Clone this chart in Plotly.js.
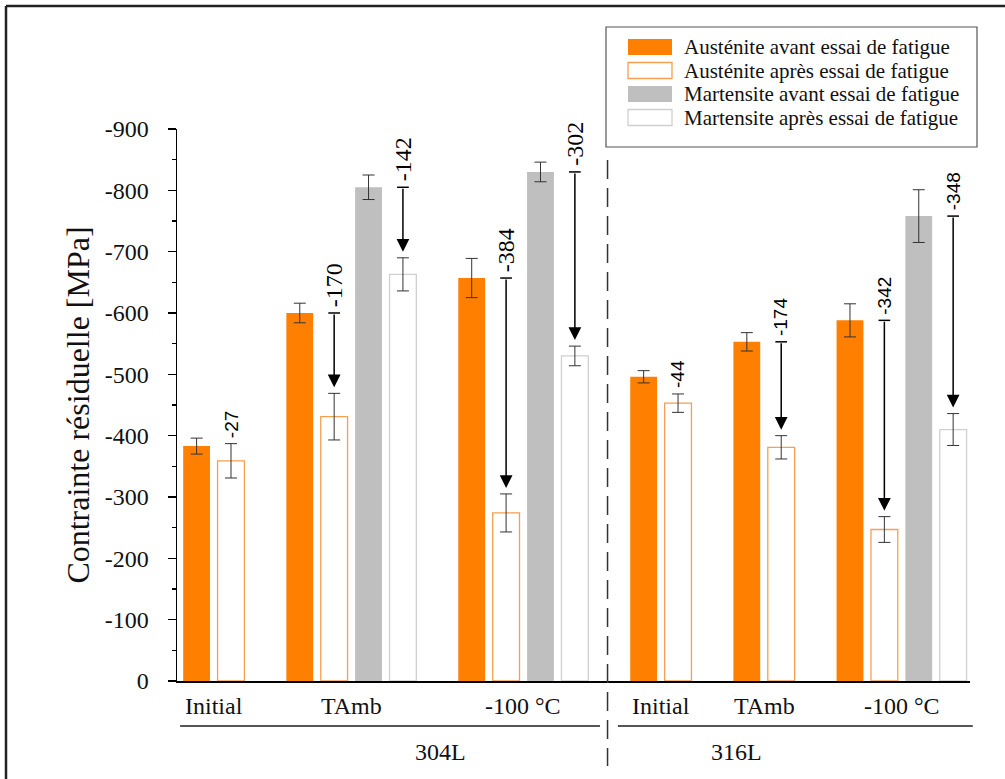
<!DOCTYPE html>
<html>
<head>
<meta charset="utf-8">
<script src="https://cdn.plot.ly/plotly-3.0.1.min.js"></script>
<style>html,body{margin:0;padding:0;background:#fff;}#chart{width:1005px;height:779px;}</style>
</head>
<body>
<div id="chart"></div>
<script>
// ---------- data ----------
const groupAlloy = ['304L', '304L', '304L', '316L', '316L', '316L'];
const groupCondition = ['Initial', 'TAmb', '-100 °C', 'Initial', 'TAmb', '-100 °C'];
const seriesNames = [
  'Austénite avant essai de fatigue',
  'Austénite après essai de fatigue',
  'Martensite avant essai de fatigue',
  'Martensite après essai de fatigue'
];
const austBefore    = [-383, -600, -657, -496, -553, -588];
const austBeforeErr = [13, 16, 32, 10, 15, 27];
const austAfter     = [-359, -431, -274, -453, -381, -247];
const austAfterErr  = [28, 38, 31, 15, 19, 21];
const martBefore    = [null, -805, -830, null, null, -758];
const martBeforeErr = [null, 20, 16, null, null, 43];
const martAfter     = [null, -663, -530, null, null, -410];
const martAfterErr  = [null, 27, 16, null, null, 26];
const austDelta = ['-27', '-170', '-384', '-44', '-174', '-342'];
const martDelta = [null, '-142', '-302', null, null, '-348'];
const yTickValues = [0, -100, -200, -300, -400, -500, -600, -700, -800, -900];
const yTickLabels = ['0', '-100', '-200', '-300', '-400', '-500', '-600', '-700', '-800', '-900'];
const alloyNames = ['304L', '316L'];

// ---------- layout constants ----------
const xRange = [-0.57, 22.49];
const yRange = [0, -900];
const plotHeightPx = 552;
const plotLeftPx = 177, plotWidthPx = 793;
const unitsPerPx = Math.abs(yRange[1] - yRange[0]) / plotHeightPx;
const barW = 0.78;
const serif = "'Liberation Serif', 'Times New Roman', serif";
const sans = "'Liberation Sans', Arial, sans-serif";
const ORANGE = '#FF8000';
const GRAY = '#BFBFBF';

// slot positions computed from group structure
const pos = {ab: [], aa: [], mb: [], ma: []};
const groupCenter = [];
let dividerX = null;
let cursor = 0;
for (let g = 0; g < groupAlloy.length; g++) {
  if (g > 0 && groupAlloy[g] !== groupAlloy[g - 1]) dividerX = cursor - 1;
  const start = cursor;
  pos.ab.push(cursor++);
  pos.aa.push(cursor++);
  if (martBefore[g] !== null) { pos.mb.push(cursor++); pos.ma.push(cursor++); }
  else { pos.mb.push(null); pos.ma.push(null); }
  groupCenter.push((start + cursor - 1) / 2);
  cursor++; // gap slot
}
const toPaperX = v => (v - xRange[0]) / (xRange[1] - xRange[0]);
const pxToPaperX = px => (px - plotLeftPx) / plotWidthPx;
const pxToPaperY = py => (681 - py) / plotHeightPx;

function pick(vals, p) {
  const xs = [], ys = [];
  vals.forEach((v, i) => { if (v !== null) { xs.push(p[i]); ys.push(v); } });
  return [xs, ys];
}
function errs(vals) { return vals.filter(v => v !== null); }

const errStyle = {type: 'data', visible: true, color: '#333', thickness: 1, width: 6};
const markerStyles = [
  {color: ORANGE, line: {color: ORANGE, width: 0}},
  {color: '#FFFFFF', line: {color: 'rgb(245,160,80)', width: 1.3}},
  {color: GRAY, line: {color: GRAY, width: 0}},
  {color: '#FFFFFF', line: {color: '#D0D0D0', width: 1.3}}
];

const [xab, yab] = pick(austBefore, pos.ab);
const [xaa, yaa] = pick(austAfter, pos.aa);
const [xmb, ymb] = pick(martBefore, pos.mb);
const [xma, yma] = pick(martAfter, pos.ma);

const traces = [
  {type: 'bar', name: seriesNames[0], x: xab, y: yab, width: barW, marker: markerStyles[0],
   error_y: Object.assign({array: errs(austBeforeErr)}, errStyle)},
  {type: 'bar', name: seriesNames[1], x: xaa, y: yaa, width: barW, marker: markerStyles[1],
   error_y: Object.assign({array: errs(austAfterErr)}, errStyle)},
  {type: 'bar', name: seriesNames[2], x: xmb, y: ymb, width: barW, marker: markerStyles[2],
   error_y: Object.assign({array: errs(martBeforeErr)}, errStyle)},
  {type: 'bar', name: seriesNames[3], x: xma, y: yma, width: barW, marker: markerStyles[3],
   error_y: Object.assign({array: errs(martAfterErr)}, errStyle)}
];

const annotations = [];
const shapes = [];
const gapUnits = 6 * unitsPerPx;
const labelFontSerif = {family: serif, size: 24, color: '#000'};
const labelFontSans = {family: sans, size: 19, color: '#000'};

function addChange(x, before, after, afterErr, label, withArrow, fontStyle) {
  if (withArrow) {
    const tip = after - afterErr - gapUnits;
    annotations.push({x: x, y: tip, ax: x, ay: before, xref: 'x', yref: 'y', axref: 'x', ayref: 'y',
      text: '', showarrow: true, arrowhead: 2, arrowsize: 1.7, arrowwidth: 1.5, arrowcolor: '#000'});
    shapes.push({type: 'line', xref: 'x', yref: 'y', x0: x - 0.17, x1: x + 0.17, y0: before, y1: before,
      line: {color: '#000', width: 1.5}});
    annotations.push({x: x, y: before, xref: 'x', yref: 'y', text: label, showarrow: false,
      textangle: -90, xanchor: 'center', yanchor: 'bottom', yshift: 4, font: fontStyle});
  } else {
    annotations.push({x: x, y: after - afterErr, xref: 'x', yref: 'y', text: label, showarrow: false,
      textangle: -90, xanchor: 'center', yanchor: 'bottom', yshift: 4, font: fontStyle});
  }
}
const austLabelFont = [labelFontSans, labelFontSerif, labelFontSerif, labelFontSans, labelFontSans, labelFontSans];
const martLabelFont = [null, labelFontSerif, labelFontSerif, null, null, labelFontSans];
for (let g = 0; g < groupAlloy.length; g++) {
  const arrow = groupCondition[g] !== 'Initial';
  addChange(pos.aa[g], austBefore[g], austAfter[g], austAfterErr[g], austDelta[g], arrow, austLabelFont[g]);
  if (martBefore[g] !== null) {
    addChange(pos.ma[g], martBefore[g], martAfter[g], martAfterErr[g], martDelta[g], true, martLabelFont[g]);
  }
  annotations.push({x: groupCenter[g], y: pxToPaperY(706), xref: 'x', yref: 'paper', text: groupCondition[g],
    showarrow: false, xanchor: 'center', yanchor: 'middle', font: {family: serif, size: 24, color: '#111'}});
}

// alloy labels & underlines
const alloyLabelX = {'304L': 7.1, '316L': 15.7};
const alloyLineSpan = {'304L': [-0.48, 11.73], '316L': [12.25, 22.57]};
alloyNames.forEach(a => {
  annotations.push({x: alloyLabelX[a], y: pxToPaperY(752), xref: 'x', yref: 'paper', text: a, showarrow: false,
    xanchor: 'center', yanchor: 'middle', font: {family: serif, size: 24, color: '#111'}});
  shapes.push({type: 'line', xref: 'paper', yref: 'paper',
    x0: toPaperX(alloyLineSpan[a][0]), x1: toPaperX(alloyLineSpan[a][1]),
    y0: pxToPaperY(726), y1: pxToPaperY(726), line: {color: '#555', width: 2}});
});

// dashed divider between alloys
shapes.push({type: 'line', xref: 'paper', yref: 'paper',
  x0: toPaperX(dividerX - 0.05), x1: toPaperX(dividerX - 0.05),
  y0: pxToPaperY(160), y1: pxToPaperY(766),
  line: {color: '#333', width: 1.5, dash: '19px,9px'}});

// outer frame (top and left edges)
const frameLeft = pxToPaperX(6);
shapes.push({type: 'line', xref: 'paper', yref: 'paper', x0: frameLeft, x1: pxToPaperX(1010),
  y0: pxToPaperY(6), y1: pxToPaperY(6), line: {color: '#222', width: 2.5}});
shapes.push({type: 'line', xref: 'paper', yref: 'paper', x0: frameLeft, x1: frameLeft,
  y0: pxToPaperY(6), y1: pxToPaperY(785), line: {color: '#222', width: 2.5}});

// legend box (drawn with shapes + text)
shapes.push({type: 'rect', xref: 'paper', yref: 'paper', layer: 'above',
  x0: pxToPaperX(606), x1: pxToPaperX(977), y0: pxToPaperY(147), y1: pxToPaperY(27),
  fillcolor: 'rgba(0,0,0,0)', line: {color: '#555', width: 1.2}});
const legendRowY = [47, 70.5, 94, 117.5];
seriesNames.forEach((name, i) => {
  const st = markerStyles[i];
  shapes.push({type: 'rect', xref: 'paper', yref: 'paper', layer: 'above',
    x0: pxToPaperX(628), x1: pxToPaperX(672),
    y0: pxToPaperY(legendRowY[i] + 8), y1: pxToPaperY(legendRowY[i] - 8),
    fillcolor: st.color, line: {color: st.line.color, width: st.line.width || 0}});
  annotations.push({x: pxToPaperX(682), y: pxToPaperY(legendRowY[i]), xref: 'paper', yref: 'paper',
    text: name, showarrow: false, xanchor: 'left', yanchor: 'middle',
    font: {family: serif, size: 21, color: '#111'}});
});

const layout = {
  width: 1005, height: 779,
  margin: {l: 177, r: 35, t: 129, b: 98},
  paper_bgcolor: '#fff', plot_bgcolor: '#fff',
  barmode: 'overlay',
  showlegend: false,
  xaxis: {range: xRange, showline: true, linecolor: '#000', linewidth: 1.5, ticks: '', showticklabels: false,
    showgrid: false, zeroline: false, fixedrange: true},
  yaxis: {range: yRange, tickvals: yTickValues, ticktext: yTickLabels, showline: true, linecolor: '#000',
    linewidth: 1.5, ticks: 'outside', ticklen: 8, tickwidth: 1.5, tickcolor: '#000',
    minor: {tickvals: [-50, -150, -250, -350, -450, -550, -650, -750, -850], ticks: 'outside', ticklen: 4, tickwidth: 1.2, tickcolor: '#000'},
    ticklabelstandoff: 14,
    tickfont: {family: serif, size: 24, color: '#111'},
    showgrid: false, zeroline: false, fixedrange: true,
    title: {text: 'Contrainte résiduelle [MPa]', font: {family: serif, size: 32, color: '#111'}, standoff: 5}},
  annotations: annotations,
  shapes: shapes
};

Plotly.newPlot('chart', traces, layout, {staticPlot: true, displayModeBar: false});
</script>
</body>
</html>
